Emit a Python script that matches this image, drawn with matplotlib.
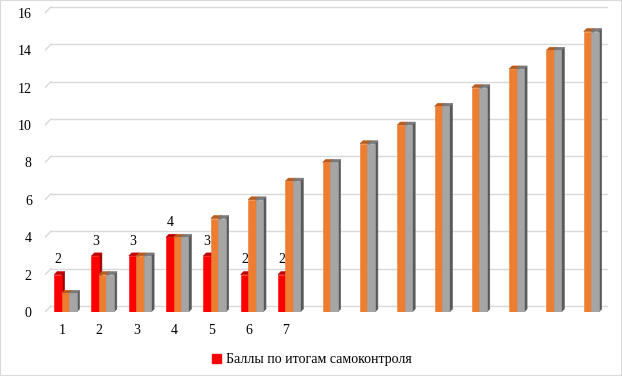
import matplotlib
matplotlib.use('Agg')
import matplotlib.pyplot as plt
from matplotlib.patches import Patch, Rectangle

plt.rcParams['font.family'] = ['Liberation Serif', 'DejaVu Serif']
plt.rcParams['font.size'] = 10

# data
categories = [1, 2, 3, 4, 5, 6, 7, 8, 9, 10, 11, 12, 13, 14, 15]
tick_labels = ['1', '2', '3', '4', '5', '6', '7']
self_control = [2, 3, 3, 4, 3, 2, 2]
series_orange = [1, 2, 3, 4, 5, 6, 7, 8, 9, 10, 11, 12, 13, 14, 15]
series_grey = [1, 2, 3, 4, 5, 6, 7, 8, 9, 10, 11, 12, 13, 14, 15]
legend_label = 'Баллы по итогам самоконтроля'

fig = plt.figure(figsize=(6.22, 3.76), dpi=100)
ax = fig.add_axes([45 / 622, 64 / 376, 563 / 622, 307 / 376])
ax.set_xlim(0.544, 15.64)
ax.set_ylim(0, 16.42)

# fake 3d depth of bars
dx = 0.08
dy = 0.16
w = 0.2


def bar3d(x0, h, front, top, side):
    ax.fill([x0 + w, x0 + w, x0 + w + dx, x0 + w + dx],
            [0, h, h + dy, dy], color=side, ec=side, lw=0.4, zorder=3)
    ax.fill([x0, x0 + w, x0 + w + dx, x0 + dx],
            [h, h, h + dy, h + dy], color=top, ec=top, lw=0.4, zorder=3)
    ax.fill([x0, x0 + w, x0 + w, x0], [0, 0, h, h],
            color=front, ec=front, lw=0.4, zorder=3)


# gridlines with back-wall slant
gx = 0.16
gy = 0.32
for v in range(0, 17, 2):
    ax.plot([0.544, 0.544 + gx], [v, v + gy], color='#D9D9D9', lw=1, zorder=1)
    ax.plot([0.544 + gx, 15.64], [v + gy, v + gy], color='#D9D9D9', lw=1, zorder=1)

for i, c in enumerate(categories):
    cx = c + 0.09
    if i < len(self_control):
        bar3d(cx - 0.3, self_control[i], '#FF0000', '#C00000', '#9E0000')
        ax.annotate(str(self_control[i]), (cx - 0.2, self_control[i]),
                    xytext=(0, 6), textcoords='offset points',
                    ha='center', va='bottom')
    bar3d(cx - 0.1, series_orange[i], '#ED7D31', '#B85C1E', '#A85520')
    bar3d(cx + 0.1, series_grey[i], '#A5A5A5', '#7A7A7A', '#595959')

ax.set_xticks(categories[:len(tick_labels)])
ax.set_xticklabels(tick_labels)
ax.set_yticks(range(0, 17, 2))
ax.tick_params(axis='x', length=0, pad=9)
ax.tick_params(axis='y', length=0, pad=9.5)
for s in ax.spines.values():
    s.set_visible(False)

fig.legend(handles=[Patch(color='#FF0000', label=legend_label)],
           loc='center', bbox_to_anchor=(312 / 622, 1 - 360 / 376),
           frameon=False, handlelength=0.6, handleheight=0.6,
           handletextpad=0.4)

fig.patches.append(Rectangle((0, 0), 1, 1, transform=fig.transFigure,
                             fill=False, edgecolor='#D9D9D9', lw=1.5))

fig.savefig('out.png', dpi=100)
